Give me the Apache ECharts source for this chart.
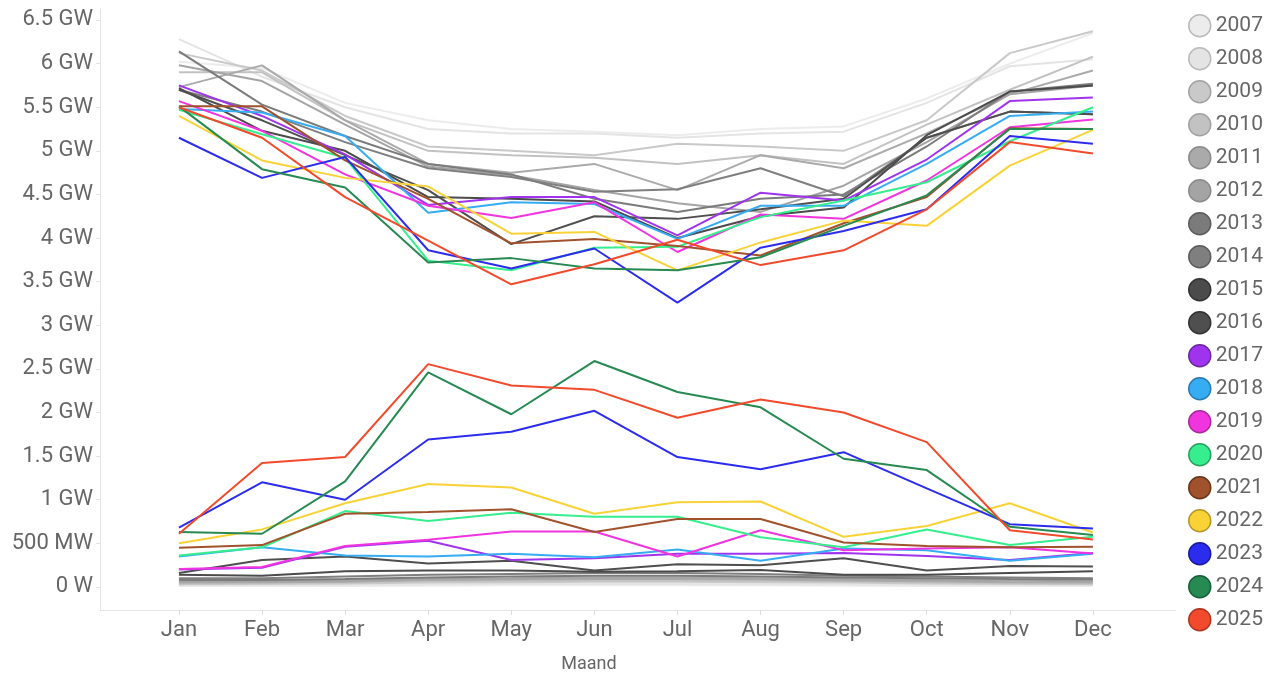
<!DOCTYPE html>
<html>
<head>
<meta charset="utf-8">
<script src="https://cdn.jsdelivr.net/npm/echarts@6/dist/echarts.min.js"></script>
<style>
html,body{margin:0;padding:0;background:#fff;}
#chart{width:1280px;height:674px;}
</style>
</head>
<body>
<div id="chart"></div>
<script>
// ---- categories / labels ----
const months = ['Jan','Feb','Mar','Apr','May','Jun','Jul','Aug','Sep','Oct','Nov','Dec'];
const years = ['2007','2008','2009','2010','2011','2012','2013','2014','2015','2016','2017','2018','2019','2020','2021','2022','2023','2024','2025'];
const yTickValues = [0,0.5,1,1.5,2,2.5,3,3.5,4,4.5,5,5.5,6,6.5]; // GW

// ---- upper group (GW) per year ----
const high2007 = [6.02,5.95,5.55,5.35,5.25,5.22,5.18,5.25,5.28,5.60,6.00,6.35];
const high2008 = [6.28,5.85,5.50,5.25,5.20,5.20,5.15,5.20,5.22,5.55,5.97,6.05];
const high2009 = [6.12,5.92,5.40,5.05,5.00,4.95,5.08,5.05,5.00,5.35,6.12,6.37];
const high2010 = [5.90,5.90,5.35,5.00,4.95,4.92,4.85,4.95,4.85,5.30,5.70,6.08];
const high2011 = [5.73,5.98,5.35,4.85,4.75,4.85,4.55,4.95,4.80,5.20,5.65,5.92];
const high2012 = [5.98,5.80,5.30,4.82,4.72,4.55,4.40,4.30,4.60,5.10,5.65,5.75];
const high2013 = [6.14,5.53,5.17,4.85,4.73,4.45,4.30,4.45,4.50,5.05,5.68,5.77];
const high2014 = [5.70,5.45,5.10,4.80,4.70,4.53,4.56,4.80,4.48,5.15,5.45,5.42];
const high2015 = [5.72,5.23,5.00,4.47,4.45,4.42,4.00,4.25,4.35,5.18,5.68,5.75];
const high2016 = [5.70,5.35,4.95,4.55,3.93,4.25,4.22,4.33,4.45,5.15,5.45,5.42];
const high2017 = [5.75,5.40,4.96,4.38,4.47,4.47,4.03,4.52,4.43,4.90,5.57,5.61];
const high2018 = [5.48,5.44,5.17,4.29,4.41,4.39,3.99,4.37,4.37,4.85,5.40,5.45];
const high2019 = [5.57,5.23,4.73,4.37,4.23,4.41,3.84,4.27,4.22,4.66,5.27,5.36];
const high2020 = [5.47,5.19,4.92,3.74,3.63,3.89,3.90,4.24,4.43,4.64,5.11,5.50];
const high2021 = [5.51,5.51,4.89,4.45,3.94,3.99,3.91,3.80,4.17,4.47,5.26,5.25];
const high2022 = [5.40,4.89,4.69,4.59,4.05,4.07,3.63,3.95,4.20,4.14,4.83,5.24];
const high2023 = [5.15,4.69,4.93,3.86,3.65,3.88,3.26,3.89,4.08,4.33,5.17,5.08];
const high2024 = [5.51,4.79,4.58,3.72,3.77,3.65,3.63,3.78,4.14,4.49,5.25,5.25];
const high2025 = [5.50,5.15,4.47,3.97,3.47,3.70,3.98,3.69,3.86,4.33,5.10,4.97];

// ---- lower group (GW) per year ----
const low2007 = [0.01,0.01,0.012,0.015,0.02,0.02,0.02,0.02,0.015,0.012,0.01,0.01];
const low2008 = [0.02,0.02,0.025,0.03,0.035,0.035,0.035,0.03,0.03,0.025,0.02,0.02];
const low2009 = [0.03,0.035,0.04,0.05,0.055,0.06,0.06,0.055,0.05,0.04,0.035,0.03];
const low2010 = [0.04,0.045,0.055,0.065,0.07,0.075,0.075,0.07,0.065,0.055,0.045,0.04];
const low2011 = [0.05,0.055,0.06,0.08,0.085,0.09,0.09,0.085,0.075,0.065,0.055,0.05];
const low2012 = [0.06,0.065,0.075,0.095,0.10,0.11,0.11,0.10,0.09,0.08,0.07,0.065];
const low2013 = [0.08,0.08,0.09,0.11,0.12,0.13,0.13,0.12,0.11,0.10,0.09,0.085];
const low2014 = [0.10,0.10,0.12,0.14,0.15,0.16,0.16,0.15,0.13,0.12,0.11,0.10];
const low2015 = [0.14,0.13,0.18,0.19,0.19,0.175,0.18,0.195,0.14,0.14,0.16,0.18];
const low2016 = [0.16,0.31,0.35,0.27,0.30,0.19,0.26,0.25,0.33,0.19,0.24,0.235];
const low2017 = [0.20,0.22,0.46,0.53,0.31,0.33,0.38,0.38,0.39,0.355,0.31,0.39];
const low2018 = [0.35,0.455,0.36,0.35,0.38,0.34,0.43,0.30,0.44,0.42,0.30,0.38];
const low2019 = [0.205,0.23,0.47,0.54,0.635,0.635,0.35,0.65,0.42,0.44,0.455,0.385];
const low2020 = [0.36,0.455,0.87,0.755,0.85,0.805,0.805,0.57,0.455,0.66,0.48,0.575];
const low2021 = [0.45,0.48,0.84,0.86,0.89,0.63,0.78,0.78,0.51,0.47,0.455,0.46];
const low2022 = [0.50,0.66,0.96,1.18,1.14,0.84,0.97,0.98,0.575,0.70,0.96,0.625];
const low2023 = [0.68,1.20,1.00,1.69,1.78,2.02,1.49,1.35,1.545,1.13,0.72,0.67];
const low2024 = [0.63,0.61,1.21,2.46,1.98,2.59,2.235,2.06,1.47,1.34,0.69,0.595];
const low2025 = [0.61,1.42,1.49,2.555,2.31,2.26,1.94,2.15,2.00,1.66,0.65,0.545];

const highSeries = [high2007,high2008,high2009,high2010,high2011,high2012,high2013,high2014,high2015,high2016,high2017,high2018,high2019,high2020,high2021,high2022,high2023,high2024,high2025];
const lowSeries = [low2007,low2008,low2009,low2010,low2011,low2012,low2013,low2014,low2015,low2016,low2017,low2018,low2019,low2020,low2021,low2022,low2023,low2024,low2025];

// ---- styles ----
const lineColors = ['#ececec','#e4e4e4','#c9c9c9','#c2c2c2','#aaaaaa','#a4a4a4','#7b7b7b','#7f7f7f','#4b4b4b','#4f4f4f',
  '#a034ee','#36acf2','#f034e0','#36ee8e','#a0522d','#f8d236','#2c2cee','#268a52','#f24a2c'];
const borderColors = ['#b9b9b9','#b9b9b9','#a2a2a2','#a2a2a2','#8a8a8a','#8a8a8a','#5c5c5c','#5c5c5c','#333333','#333333',
  '#6a2a9a','#2a7ab0','#a82a98','#2aa060','#6a3418','#b8952a','#1a1aa0','#186038','#b03420'];

const font = 'Roboto, "Noto Sans", sans-serif';

function fmtW(v){
  if (v === 0) return '0 W';
  if (v < 1) return Math.round(v*1000) + ' MW';
  return v + ' GW';
}

const series = [];
years.forEach((y, i) => {
  [highSeries[i], lowSeries[i]].forEach(arr => {
    series.push({
      name: y,
      type: 'line',
      data: arr.map((v, m) => [m, v]),
      showSymbol: false,
      symbol: 'none',
      lineStyle: { width: 2, color: lineColors[i] },
      itemStyle: { color: lineColors[i] },
      z: 2 + i,
      silent: true
    });
  });
});

const chart = echarts.init(document.getElementById('chart'), null, { renderer: 'canvas' });
chart.setOption({
  animation: false,
  backgroundColor: '#ffffff',
  grid: { left: 100, right: 104, top: 9, bottom: 64, containLabel: false, outerBoundsMode: 'none' },
  xAxis: {
    type: 'value',
    min: -0.95,
    max: 12,
    name: 'Maand',
    nameLocation: 'middle',
    nameGap: 45,
    nameTextStyle: { fontFamily: font, fontSize: 18, color: '#666', padding: [0, 98, 0, 0] },
    axisLine: { show: true, onZero: false, lineStyle: { color: '#e4e4e4', width: 1 } },
    axisTick: { show: true, customValues: months.map((m, i) => i), length: 5, lineStyle: { color: '#dcdcdc' } },
    splitLine: { show: false },
    axisLabel: {
      customValues: months.map((m, i) => i),
      formatter: v => months[Math.round(v)] || '',
      fontFamily: font, fontSize: 22, color: '#666', margin: 9
    }
  },
  yAxis: {
    type: 'value',
    min: -0.264,
    max: 6.626,
    axisLine: { show: true, onZero: false, lineStyle: { color: '#e4e4e4', width: 1 } },
    axisTick: { show: true, customValues: yTickValues, length: 4, lineStyle: { color: '#e4e4e4' } },
    splitLine: { show: false },
    axisLabel: {
      customValues: yTickValues,
      formatter: fmtW,
      fontFamily: font, fontSize: 22, color: '#666', margin: 7
    }
  },
  legend: {
    orient: 'vertical',
    left: 1183,
    top: 9,
    itemWidth: 22,
    itemHeight: 22,
    itemGap: 9.5,
    textStyle: { fontFamily: font, fontSize: 21, lineHeight: 22, color: '#666' },
    data: years.map((y, i) => ({
      name: y,
      icon: 'circle',
      itemStyle: { color: lineColors[i], borderColor: borderColors[i], borderWidth: 1.5 }
    }))
  },
  series: series
});
</script>
</body>
</html>
